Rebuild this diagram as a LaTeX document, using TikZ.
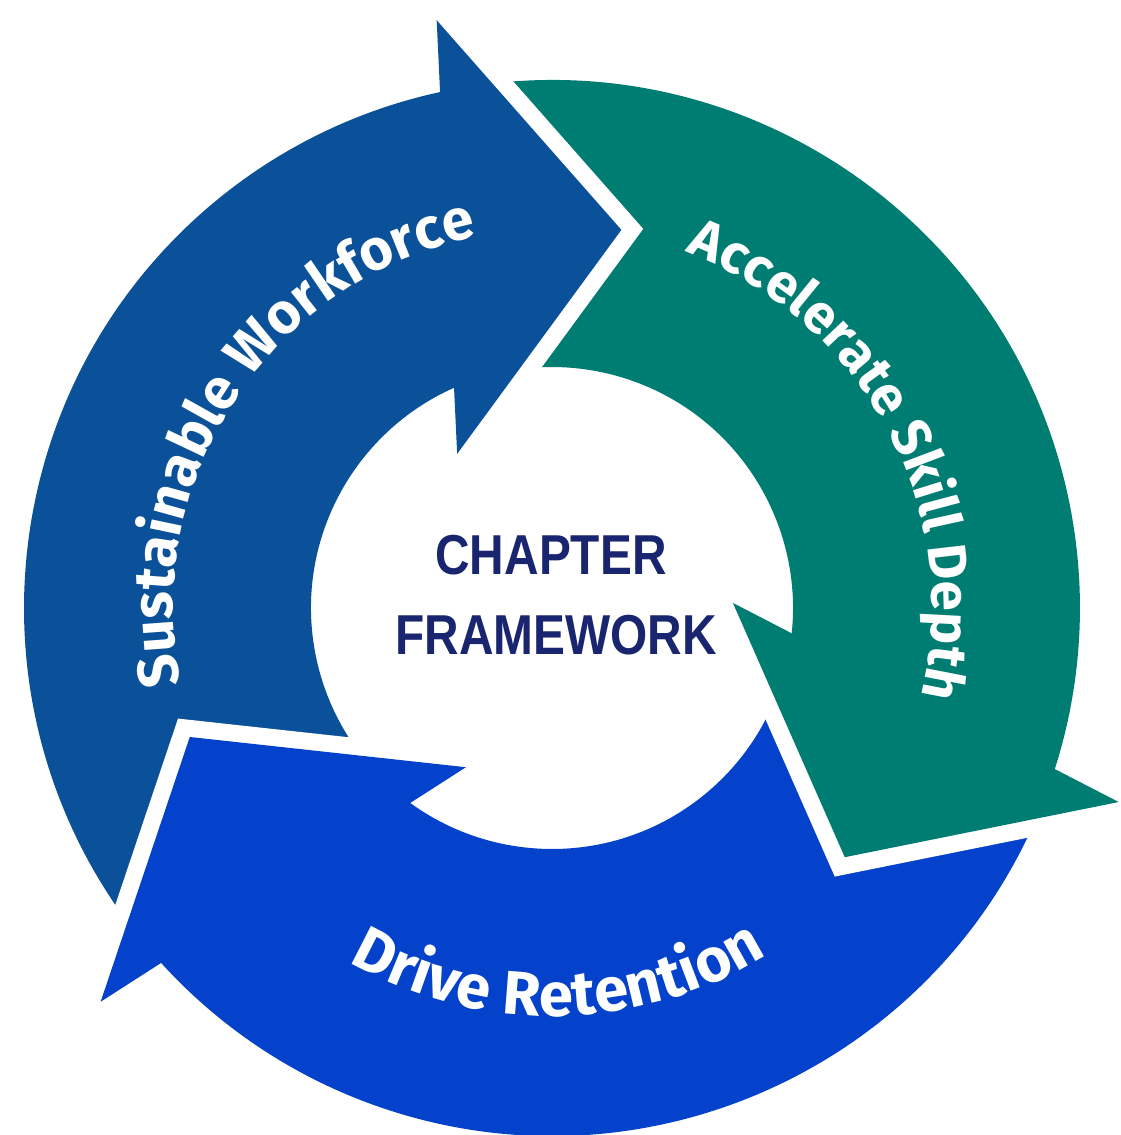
\documentclass[tikz,border=0pt]{standalone}
\usepackage{fontspec}
\usetikzlibrary{decorations.text}
\newfontfamily\ringfont{Fira Sans}
\newfontfamily\hubfont{Liberation Sans}[FakeStretch=0.85]
\definecolor{workforceblue}{RGB}{10,81,154}
\definecolor{skillteal}{RGB}{0,125,114}
\definecolor{retentionblue}{RGB}{4,66,204}
\definecolor{hubnavy}{RGB}{26,37,112}
\tikzset{
  gapline/.style={white, line width=0.34cm, line join=miter},
  ringtext/.style 2 args={decorate, decoration={text along path, text align=center,
    text={|\ringfont\bfseries\fontsize{#1}{20}\selectfont\color{white}|#2}}},
  hubtext/.style={font=\hubfont\bfseries\fontsize{16}{19}\selectfont, text=hubnavy}
}

\begin{document}
\begin{tikzpicture}[x=0.01cm, y=0.01cm]
  \useasboundingbox (-552,-527) rectangle (569,608);
  \fill[workforceblue] (219.6:528) arc[start angle=219.6, end angle=99.6, radius=528]
    -- (99.6:241) arc[start angle=99.6, end angle=219.6, radius=241] -- cycle;
  \fill[skillteal] (99.6:528) arc[start angle=99.6, end angle=-20.4, radius=528]
    -- (-20.4:241) arc[start angle=-20.4, end angle=99.6, radius=241] -- cycle;
  \fill[retentionblue] (-20.4:528) arc[start angle=-20.4, end angle=-140.4, radius=528]
    -- (-140.4:241) arc[start angle=-140.4, end angle=-20.4, radius=241] -- cycle;
  \draw[gapline] (101.1:599) -- (79.6:384.5) -- (121.6:181);
  \fill[workforceblue] (101.1:599) -- (79.6:384.5) -- (121.6:181) -- cycle;
  \draw[gapline] (-18.9:599) -- (-40.4:384.5) -- (1.6:181);
  \fill[skillteal] (-18.9:599) -- (-40.4:384.5) -- (1.6:181) -- cycle;
  \draw[gapline] (221.1:599) -- (199.6:384.5) -- (241.6:181);
  \fill[retentionblue] (221.1:599) -- (199.6:384.5) -- (241.6:181) -- cycle;
  \path[ringtext={16.3}{Sustainable Workforce}]
    (206.5:379) arc[start angle=206.5, end angle=86.5, radius=379];
  \path[ringtext={15.5}{Accelerate Skill Depth}]
    (88:380) arc[start angle=88, end angle=-32, radius=380];
  \path[ringtext={17.5}{Drive Retention}]
    (211:408) arc[start angle=211, end angle=331, radius=408];
  \node (chapter) [hubtext] at (-1,53) {CHAPTER};
  \node (framework) [hubtext] at (4,-27) {FRAMEWORK};
\end{tikzpicture}
\end{document}
